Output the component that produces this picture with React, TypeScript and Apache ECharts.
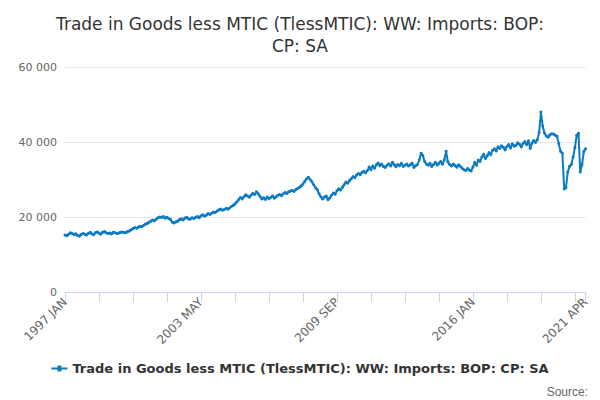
import React, { useEffect, useRef } from 'react';
import * as echarts from 'echarts';

const MONTHS = ['JAN', 'FEB', 'MAR', 'APR', 'MAY', 'JUN', 'JUL', 'AUG', 'SEP', 'OCT', 'NOV', 'DEC'];

const values: number[] = [
  // 1997
  15200, 15000, 15400, 15800, 15600, 15300, 15500, 15100, 14900, 15300, 15600, 15400,
  // 1998
  15200, 15600, 15900, 15500, 15300, 15800, 16000, 15700, 15400, 15900, 16100, 15800,
  // 1999
  15600, 15700, 15500, 15900, 15800, 15600, 15700, 15900, 16000, 15800, 15900, 16100,
  // 2000
  16300, 16600, 16900, 17200, 17000, 17300, 17500, 17400, 17800, 18100, 18300, 18600,
  // 2001
  18900, 19200, 19000, 19400, 19800, 20000, 19900, 20100, 19700, 19900, 19600, 19300,
  // 2002
  18600, 18400, 18700, 18900, 19300, 19500, 19200, 19700, 19900, 19500, 19400, 19800,
  // 2003
  19600, 19900, 20100, 19800, 20300, 20600, 20200, 20500, 20900, 20700, 21000, 21300,
  // 2004
  21200, 21600, 21900, 22100, 21800, 22000, 22300, 22100, 22400, 22800, 23100, 23500,
  // 2005
  24000, 24600, 25200, 24800, 25400, 25900, 25600, 25300, 25800, 26300, 26000, 26700,
  // 2006
  26200, 25500, 24800, 25100, 24700, 25300, 24900, 25200, 25600, 25000, 25400, 25800,
  // 2007
  26000, 25700, 26200, 26500, 26300, 26700, 26900, 27100, 26800, 27300, 27600, 27900,
  // 2008
  28300, 28800, 29500, 30200, 30600, 30000, 29400, 28600, 27800, 27300, 26200, 25400,
  // 2009
  24800, 25300, 25600, 24600, 25100, 25800, 26400, 26100, 27000, 27500, 27200, 27900,
  // 2010
  28600, 29300, 29000, 29700, 30200, 30800, 30500, 31200, 31600, 31300, 31900, 32200,
  // 2011
  31800, 32400, 33300, 32600, 33600, 33000, 33900, 34400, 33700, 34100, 33500, 33200,
  // 2012
  33800, 34200, 33600, 34600, 33900, 33400, 34000, 33700, 34300, 33500, 33800, 34100,
  // 2013
  33600, 33900, 34400, 33200, 33700, 34000, 35200, 37000, 36400, 34800, 34100, 33800,
  // 2014
  34300, 33500, 34000, 34600, 33900, 34300, 34800, 34100, 35200, 37500, 34700, 34000,
  // 2015
  33600, 34100, 33700, 33300, 33900, 33500, 33000, 32600, 32400, 32900, 32500, 32300,
  // 2016
  33300, 34600, 33800, 35200, 34800, 36000, 36700, 35600, 36300, 37200, 36600, 37800,
  // 2017
  38200, 37600, 38700, 38300, 39000, 38600, 37900, 38800, 39300, 38400, 39500, 38900,
  // 2018
  39100, 39800, 39400, 38700, 39600, 40100, 39300, 40300, 38300, 39700, 40400, 39900,
  // 2019
  40600, 42500, 48000, 44200, 42400, 41600, 41300, 41900, 42200, 42100, 41800, 41500,
  // 2020
  39500, 37500, 37000, 27500, 27800, 32000, 33500, 34000, 36000, 38500, 41800, 42300,
  // 2021
  32000, 34000, 37500, 38200,
];

const categories: string[] = values.map((_, i) => `${1997 + Math.floor(i / 12)} ${MONTHS[i % 12]}`);
const labelEvery = 76;
const tickEvery = 19;

const TITLE = 'Trade in Goods less MTIC (TlessMTIC): WW: Imports: BOP:\nCP: SA';
const SERIES = 'Trade in Goods less MTIC (TlessMTIC): WW: Imports: BOP: CP: SA';

const App: React.FC = () => {
  const chartRef = useRef<HTMLDivElement>(null);

  useEffect(() => {
    if (!chartRef.current) return;
    const chart = echarts.init(chartRef.current, undefined, { renderer: 'svg' });
    const last = categories.length - 1;
    chart.setOption({
      animation: false,
      textStyle: { fontFamily: '"DejaVu Sans", sans-serif' },
      title: {
        text: TITLE,
        left: 'center',
        top: 0,
        textStyle: { fontSize: 17, fontWeight: 'normal', color: '#333', lineHeight: 22 },
      },
      grid: { left: 57, right: 6, top: 59, bottom: 108 },
      legend: {
        bottom: 20,
        left: 'center',
        icon: 'path://M0,4L6,4L6,2L10,2L10,4L16,4L16,6L10,6L10,8L6,8L6,6L0,6Z',
        itemWidth: 16,
        itemHeight: 6,
        textStyle: { fontSize: 13, fontWeight: 'bold', color: '#333' },
      },
      graphic: [
        { type: 'text', right: 4, bottom: 2, style: { text: 'Source:', fontSize: 12, fill: '#666' } },
      ],
      xAxis: {
        type: 'category',
        data: categories,
        boundaryGap: false,
        axisLine: { lineStyle: { color: '#ccd6eb' } },
        axisTick: {
          lineStyle: { color: '#ccd6eb' },
          length: 10,
          interval: (i: number) => i % tickEvery === 0 || i === last,
        },
        axisLabel: {
          rotate: 45,
          color: '#666',
          fontSize: 12,
          interval: (i: number) => i % labelEvery === 0 || i === last,
        },
      },
      yAxis: {
        type: 'value',
        min: 0,
        max: 60000,
        interval: 20000,
        axisLabel: {
          color: '#666',
          fontSize: 11,
          formatter: (v: number) => String(v).replace(/\B(?=(\d{3})+(?!\d))/g, ' '),
        },
        splitLine: { lineStyle: { color: '#e6e6e6' } },
      },
      series: [
        {
          type: 'line',
          name: SERIES,
          data: values,
          color: '#0b7bc1',
          symbol: 'circle',
          symbolSize: 3,
          showAllSymbol: true,
          lineStyle: { width: 2 },
        },
      ],
    });
    return () => chart.dispose();
  }, []);

  return <div ref={chartRef} style={{ width: '584px', height: '392px' }} />;
};

export default App;
